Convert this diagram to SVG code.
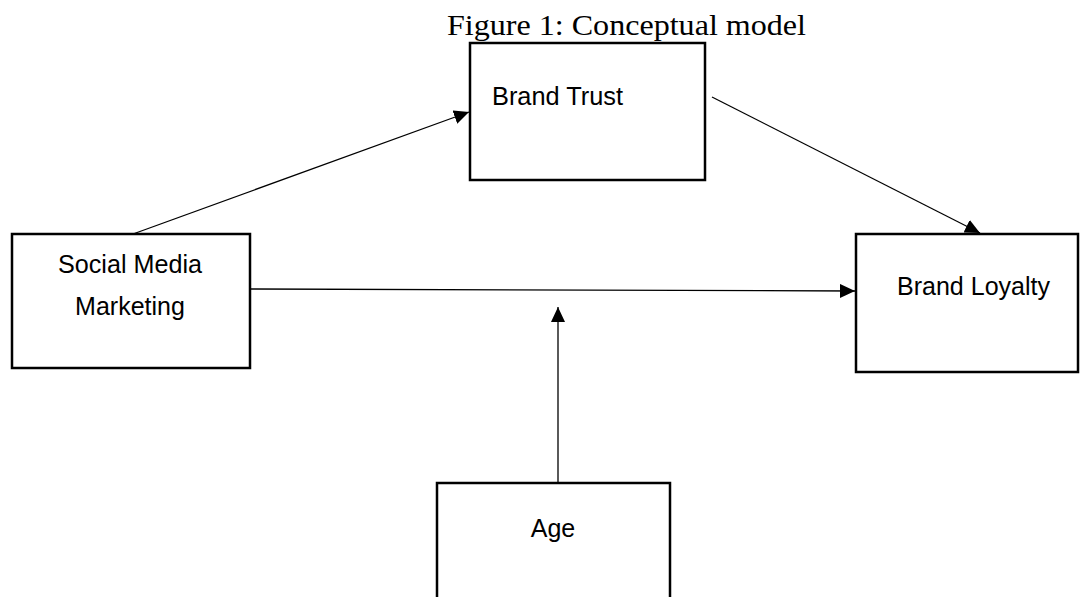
<svg xmlns="http://www.w3.org/2000/svg" width="1080" height="597" viewBox="0 0 1080 597">
<defs>
<style>
.box{fill:#fff;stroke:#000;stroke-width:2.5}
.lbl{font-family:"Liberation Sans",Arial,sans-serif;font-size:25px;fill:#000}
.conn{stroke:#000;stroke-width:1.3;fill:none}
.title{font-family:"Liberation Serif","Times New Roman",serif;font-size:30px;fill:#000}
</style>
<marker id="arr" viewBox="0 0 15 14" refX="15" refY="7" markerWidth="15" markerHeight="14" markerUnits="userSpaceOnUse" orient="auto">
<path d="M0,0 L15,7 L0,14 Z" fill="#000"/>
</marker>
</defs>
<rect width="1080" height="597" fill="#fff"/>
<text class="title" x="447" y="35" textLength="359" lengthAdjust="spacingAndGlyphs">Figure 1: Conceptual model</text>
<g id="connectors">
<line class="conn" x1="133" y1="234" x2="469" y2="112" marker-end="url(#arr)"/>
<line class="conn" x1="712" y1="97" x2="980" y2="233" marker-end="url(#arr)"/>
<line class="conn" x1="251" y1="289" x2="855" y2="291" marker-end="url(#arr)"/>
<line class="conn" x1="558" y1="483" x2="558" y2="307" marker-end="url(#arr)"/>
</g>
<g id="brand-trust">
<rect class="box" x="470" y="43" width="235" height="137"/>
<text class="lbl" x="492" y="105" textLength="131" lengthAdjust="spacingAndGlyphs">Brand Trust</text>
</g>
<g id="social-media-marketing">
<rect class="box" x="12" y="234" width="238" height="134"/>
<text class="lbl" x="130" y="273" text-anchor="middle" textLength="144" lengthAdjust="spacingAndGlyphs">Social Media</text>
<text class="lbl" x="130" y="315" text-anchor="middle">Marketing</text>
</g>
<g id="brand-loyalty">
<rect class="box" x="856" y="234" width="222" height="138"/>
<text class="lbl" x="897" y="295" textLength="153" lengthAdjust="spacingAndGlyphs">Brand Loyalty</text>
</g>
<g id="age">
<rect class="box" x="437" y="483" width="233" height="130"/>
<text class="lbl" x="553" y="537" text-anchor="middle">Age</text>
</g>
</svg>
